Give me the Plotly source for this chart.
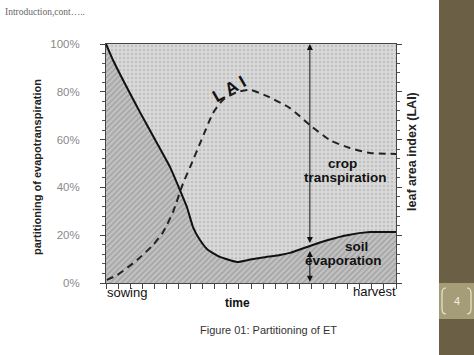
import numpy as np
import plotly.graph_objects as go

# ---- data (time as % of season, sowing=0, harvest=100) ----
soil_t = [0, 2.4, 11.7, 17.6, 22.1, 25.5, 27.9, 30.0, 32.4, 35.2, 39.3, 45.2, 49.7, 54.1, 60.0, 63.4, 70.3, 76.6, 83.1, 91.0, 100]
soil_pct = [100, 93.3, 71.5, 58.5, 48.5, 38.9, 31.8, 23.4, 18.0, 13.8, 10.9, 8.8, 9.8, 10.7, 11.7, 12.6, 15.5, 18.0, 20.0, 21.3, 21.3]

lai_t = [0.3, 3.8, 10.7, 16.2, 19.7, 23.1, 26.6, 29.0, 32.9, 36.9, 40.3, 45.2, 49.7, 55.5, 63.4, 70.3, 77.2, 84.1, 91.0, 100]
lai_rel = [1.3, 3.3, 9.6, 15.9, 21.3, 29.7, 41.8, 48.5, 59.8, 71.1, 76.6, 79.9, 80.8, 78.2, 73.2, 66.1, 59.8, 56.5, 54.4, 54.0]

y_ticks = [0, 20, 40, 60, 80, 100]
arrow_t = 70.3

# ---- layout helpers (pixel -> paper) ----
L, R, T, B = 106, 396, 44, 283
def px(x):
    return (x - L) / (R - L)
def py(y):
    return (B - y) / (B - T)

fig = go.Figure()

# soil evaporation region (below solid line)
fig.add_trace(go.Scatter(
    x=soil_t, y=soil_pct, mode="lines", line=dict(width=0, color="black", shape="spline", smoothing=0.4),
    fill="tozeroy", fillcolor="#bdbdbd",
    fillpattern=dict(shape="/", bgcolor="#c2c2c2", fgcolor="#858585", size=4, solidity=0.4),
    hoverinfo="skip", showlegend=False))
# crop transpiration region (above solid line)
fig.add_trace(go.Scatter(
    x=soil_t, y=[100] * len(soil_t), mode="lines", line=dict(width=0),
    fill="tonexty", fillcolor="#d6d6d6",
    fillpattern=dict(shape=".", bgcolor="#d9d9d9", fgcolor="#a8a8a8", size=4, solidity=0.3),
    hoverinfo="skip", showlegend=False))
# solid line
fig.add_trace(go.Scatter(
    x=soil_t, y=soil_pct, mode="lines", line=dict(color="#111111", width=2, shape="spline", smoothing=0.4),
    hoverinfo="skip", showlegend=False))
# LAI dashed line
fig.add_trace(go.Scatter(
    x=lai_t, y=lai_rel, mode="lines",
    line=dict(color="#222222", width=2, dash="7px,5px", shape="spline", smoothing=0.6),
    hoverinfo="skip", showlegend=False))

y_at_arrow = float(np.interp(arrow_t, soil_t, soil_pct))

ann = []
# arrows
ann.append(dict(x=arrow_t, y=100, ax=arrow_t, ay=y_at_arrow + 0.6, xref="x", yref="y", axref="x", ayref="y",
                text="", showarrow=True, arrowhead=2, arrowside="end+start", arrowwidth=1, arrowsize=1.2,
                arrowcolor="#111111"))
ann.append(dict(x=arrow_t, y=0.5, ax=arrow_t, ay=y_at_arrow - 1.5, xref="x", yref="y", axref="x", ayref="y",
                text="", showarrow=True, arrowhead=2, arrowside="end+start", arrowwidth=1, arrowsize=1.2,
                arrowcolor="#111111"))

def txt(t, x, y, size, bold=False, xanchor="center", color="#111111", angle=0, family="Liberation Sans, Arial"):
    ann.append(dict(text=(f"<b>{t}</b>" if bold else t), x=px(x), y=py(y), xref="paper", yref="paper",
                    showarrow=False, xanchor=xanchor, yanchor="middle", textangle=angle,
                    font=dict(size=size, color=color, family=family)))

txt("L A I", 229, 90, 17, bold=True, angle=-30)
txt("crop", 342, 163, 13.5, bold=True)
txt("transpiration", 345, 177, 13.5, bold=True)
txt("soil", 356, 246, 13.5, bold=True)
txt("evaporation", 343, 260, 13.5, bold=True)
txt("sowing", 105, 292, 13, xanchor="left")
txt("harvest", 398, 291, 13, xanchor="right")
txt("time", 237, 303, 12, bold=True)
txt("partitioning of evapotranspiration", 37, 167, 11, bold=True, angle=-90, color="#222222")
txt("leaf area index (LAI)", 412, 152, 12.5, bold=True, angle=-90, color="#222222")
txt("Introduction,cont…..", 3, 12, 9.5, xanchor="left", color="#666666", family="Liberation Serif, serif")
txt("Figure 01: Partitioning of ET", 268, 330, 11, color="#333333")
txt("4", 457, 301, 11, color="#f2eed9")

shapes = [
    dict(type="rect", xref="paper", yref="paper", x0=px(439), x1=px(480), y0=py(-5), y1=py(360),
         fillcolor="#6b5f46", line=dict(width=0), layer="above"),
    dict(type="rect", xref="paper", yref="paper", x0=px(439), x1=px(480), y0=py(283), y1=py(319),
         fillcolor="#a49d78", line=dict(width=0), layer="above"),
    dict(type="path", xref="paper", yref="paper",
         path=f"M {px(446)} {py(288)} Q {px(442)} {py(288)} {px(442)} {py(293)} L {px(442)} {py(309)} Q {px(442)} {py(314)} {px(446)} {py(314)}",
         line=dict(color="#ece6cc", width=1.2), layer="above"),
    dict(type="path", xref="paper", yref="paper",
         path=f"M {px(467)} {py(288)} Q {px(471)} {py(288)} {px(471)} {py(293)} L {px(471)} {py(309)} Q {px(471)} {py(314)} {px(467)} {py(314)}",
         line=dict(color="#ece6cc", width=1.2), layer="above"),
]

fig.update_layout(
    width=474, height=355,
    margin=dict(l=L, r=474 - R, t=T, b=355 - B),
    paper_bgcolor="white", plot_bgcolor="#d9d9d9",
    showlegend=False,
    annotations=ann, shapes=shapes,
    xaxis=dict(range=[0, 100], showgrid=False, zeroline=False, showticklabels=False,
               tickvals=[i * 100 / 24 for i in range(25)], ticks="outside", ticklen=5,
               tickcolor="#444444", showline=True, linecolor="#444444", linewidth=1, mirror=True),
    yaxis=dict(range=[0, 100], showgrid=False, zeroline=False, tickvals=y_ticks,
               ticktext=[f"{v}%" for v in y_ticks], ticks="outside", ticklen=5, tickcolor="#444444",
               tickfont=dict(size=11.5, color="#8a8a8a", family="Liberation Sans, Arial"),
               ticklabelstandoff=18,
               minor=dict(dtick=4, ticks="outside", ticklen=3, tickcolor="#555555"),
               showline=True, linecolor="#444444", linewidth=1, mirror="ticks"),
)

fig.write_html("out.html", config={"displayModeBar": False},
               post_script="document.body.style.margin='0';document.body.style.overflow='hidden';")
